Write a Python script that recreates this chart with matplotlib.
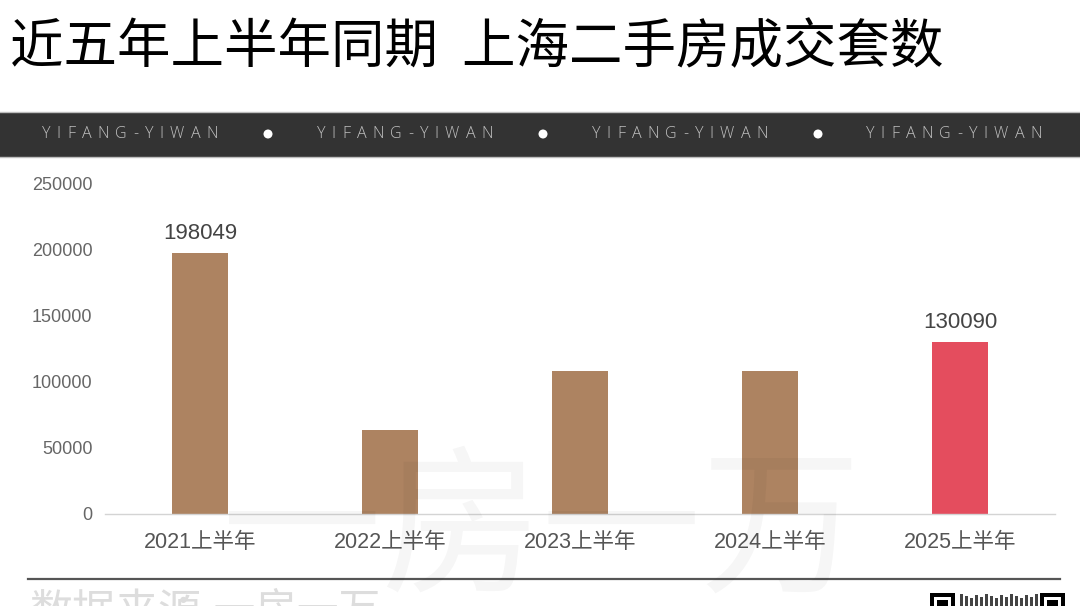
import matplotlib
matplotlib.use("Agg")
import matplotlib.pyplot as plt
from matplotlib.patches import Rectangle, Ellipse

# ---- data ----
categories = ["2021上半年", "2022上半年", "2023上半年", "2024上半年", "2025上半年"]
values = [198049, 64000, 108500, 108500, 130090]
labeled = {0: "198049", 4: "130090"}
yticks = [0, 50000, 100000, 150000, 200000, 250000]
title = "近五年上半年同期  上海二手房成交套数"
banner_word = "YIFANG-YIWAN"
watermark = "一房一万"

BROWN = "#AD8361"
RED = "#E44D5E"
colors = [BROWN, BROWN, BROWN, BROWN, RED]

W, H = 1080, 606
fig = plt.figure(figsize=(W / 100, H / 100), dpi=100)
fig.patch.set_facecolor("white")

LAT = ["Liberation Sans", "Noto Sans CJK SC"]
CJK = ["Noto Sans CJK SC", "DejaVu Sans"]

def fx(px):
    return px / W

def fy(py):
    return 1 - py / H

# title
fig.text(fx(10), fy(48), title, family=CJK, fontsize=38.5, color="black",
         ha="left", va="center")

# banner
fig.add_artist(Rectangle((0, fy(157)), 1, fy(112) - fy(157), transform=fig.transFigure,
                         facecolor="#333333", edgecolor="none", zorder=1))
for yy in (112, 157):
    fig.add_artist(plt.Line2D([0, 1], [fy(yy), fy(yy)], transform=fig.transFigure,
                              color="#bdbdbd", lw=1, zorder=2))

renderer = fig.canvas.get_renderer()
starts = [42, 317, 592, 866]
target_w = 176
BFONT = dict(family=["Open Sans", "DejaVu Sans"], fontsize=11.5, fontweight="light")
for s in starts:
    ws = []
    for ch in banner_word:
        t = fig.text(0, 0, ch, **BFONT)
        ws.append(t.get_window_extent(renderer).width)
        t.remove()
    spacing = (target_w - sum(ws)) / (len(banner_word) - 1)
    x = s
    for ch, w in zip(banner_word, ws):
        fig.text(fx(x), fy(134), ch, color="#c0c0c0", ha="left", va="center",
                 zorder=3, **BFONT)
        x += w + spacing
for dx in (268, 543, 818):
    fig.add_artist(Ellipse((fx(dx), fy(134)), 9 / W, 9 / H, transform=fig.transFigure,
                           facecolor="white", edgecolor="none", zorder=3))

# axes
ax = fig.add_axes([fx(105), fy(514), fx(1055) - fx(105), fy(184) - fy(514)])
x = list(range(len(categories)))
ax.bar(x, values, width=0.29, color=colors, zorder=2)
ax.set_xlim(-0.5, len(categories) - 0.5)
ax.set_ylim(0, 250000)
ax.set_yticks(yticks)
ax.set_yticklabels([str(v) for v in yticks], family=LAT, fontsize=13, color="#666666")
ax.set_xticks(x)
ax.set_xticklabels(categories, family=LAT, fontsize=15.5, color="#555555")
ax.tick_params(axis="y", length=0, pad=9)
ax.tick_params(axis="x", length=0, pad=13)
for sp in ("top", "right", "left"):
    ax.spines[sp].set_visible(False)
ax.spines["bottom"].set_color("#d4d4d4")
ax.spines["bottom"].set_linewidth(1)
ax.set_facecolor("none")

for i, lab in labeled.items():
    ax.annotate(lab, (x[i], values[i]), xytext=(0, 10), textcoords="offset points",
                ha="center", va="baseline", family=LAT, fontsize=16, color="#444444")

# bottom rule
fig.add_artist(plt.Line2D([fx(28), fx(1060)], [fy(579), fy(579)], transform=fig.transFigure,
                          color="#555555", lw=1.6, zorder=3))

# source text (cut off at bottom)
fig.text(fx(29), fy(591), "数据来源", family=CJK, fontsize=31, color="#dddddd",
         ha="left", va="top", zorder=3)
fig.text(fx(173), fy(591), "：一房一万", family=CJK, fontsize=30, color="#dddddd",
         ha="left", va="top", zorder=3)

# QR-code-ish mark
for qx in (930, 1040):
    fig.add_artist(Rectangle((fx(qx), 0), 25 / W, fy(593), transform=fig.transFigure,
                             facecolor="black", edgecolor="none", zorder=4))
    fig.add_artist(Rectangle((fx(qx + 4), 0), 17 / W, fy(597), transform=fig.transFigure,
                             facecolor="white", edgecolor="none", zorder=5))
    fig.add_artist(Rectangle((fx(qx + 7), 0), 11 / W, fy(600), transform=fig.transFigure,
                             facecolor="black", edgecolor="none", zorder=6))
for i, qx in enumerate(range(960, 1036, 5)):
    hh = 594 + (i * 7) % 5
    fig.add_artist(Rectangle((fx(qx), 0), 3 / W, fy(hh), transform=fig.transFigure,
                             facecolor="#444444", edgecolor="none", zorder=4))

# watermark
fig.text(fx(222), fy(452), watermark, family=CJK, fontsize=115, color="black", alpha=0.035,
         ha="left", va="top", zorder=10)

fig.savefig("out.png", dpi=100)
